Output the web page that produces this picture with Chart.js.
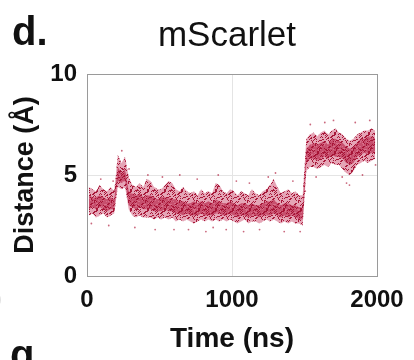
<!DOCTYPE html>
<html>
<head>
<meta charset="utf-8">
<script src="https://cdn.jsdelivr.net/npm/chart.js@4.4.1/dist/chart.umd.min.js"></script>
<style>
  html, body { margin: 0; padding: 0; background: #fff; }
  #wrap { width: 414px; height: 360px; position: relative; }
</style>
</head>
<body>
<div id="wrap"><canvas id="chart" width="414" height="360"></canvas></div>
<script>
// Time bins (ns, bin centres, 25 ns wide)
var binTime = [];
for (var i = 0; i < 80; i++) binTime.push(12.5 + 25 * i);

// Spread of the dense point cloud per bin (Å)
var outerLow = [
  3.0, 3.1, 2.9, 3.0, 3.1, 2.9, 3.0, 3.1, 4.4, 4.3,
  4.4, 3.3, 3.0, 2.9, 3.0, 2.9, 2.9, 2.9, 2.8, 2.9,
  2.8, 2.9, 2.8, 2.9, 2.7, 2.8, 2.7, 2.8, 2.7, 2.6,
  2.7, 2.8, 2.7, 2.8, 2.7, 2.8, 2.7, 2.8, 2.7, 2.8,
  2.7, 2.6, 2.7, 2.8, 2.6, 2.7, 2.7, 2.6, 2.7, 2.8,
  2.7, 2.8, 2.7, 2.6, 2.7, 2.6, 2.7, 2.6, 2.6, 2.5,
  5.2, 5.4, 5.4, 5.3, 5.4, 5.5, 5.4, 5.6, 5.5, 5.5,
  5.3, 5.1, 5.0, 5.2, 5.5, 5.6, 5.7, 5.6, 5.7, 5.8
];
var outerHigh = [
  4.4, 4.3, 4.2, 4.5, 4.3, 4.2, 4.4, 4.2, 6.0, 5.6,
  5.9, 4.9, 4.5, 4.4, 4.6, 4.4, 4.8, 4.7, 4.4, 4.3,
  4.3, 4.5, 4.7, 4.6, 4.3, 4.2, 4.4, 4.2, 4.1, 4.2,
  4.0, 4.3, 4.1, 4.2, 4.1, 4.6, 4.5, 4.2, 4.1, 4.3,
  4.2, 4.0, 4.2, 4.1, 4.0, 4.3, 4.1, 4.0, 4.2, 4.3,
  4.5, 4.8, 4.4, 4.1, 4.2, 4.3, 4.1, 4.2, 4.0, 4.0,
  6.8, 7.0, 7.1, 6.9, 7.1, 7.2, 7.0, 7.2, 7.3, 7.1,
  7.0, 6.8, 6.7, 6.8, 7.0, 7.1, 7.2, 7.2, 7.3, 7.2
];
var coreLow = [
  3.3, 3.4, 3.3, 3.4, 3.3, 3.2, 3.3, 3.3, 4.7, 4.6,
  4.7, 3.5, 3.4, 3.3, 3.4, 3.3, 3.3, 3.3, 3.2, 3.2,
  3.2, 3.3, 3.2, 3.2, 3.1, 3.1, 3.0, 3.1, 3.0, 3.0,
  3.0, 3.1, 3.0, 3.0, 3.0, 3.1, 3.1, 3.0, 3.0, 3.1,
  3.0, 2.9, 3.0, 3.0, 2.9, 3.0, 3.0, 2.9, 3.0, 3.0,
  3.0, 3.1, 3.0, 2.9, 3.0, 2.9, 3.0, 2.9, 2.8, 2.8,
  5.6, 5.8, 5.8, 5.7, 5.8, 5.9, 5.8, 6.0, 5.9, 5.9,
  5.8, 5.6, 5.5, 5.6, 5.9, 6.0, 6.1, 6.0, 6.1, 6.1
];
var coreHigh = [
  4.0, 3.9, 3.9, 4.0, 3.9, 3.8, 3.9, 3.8, 5.4, 5.1,
  5.3, 4.2, 4.1, 4.0, 4.1, 3.9, 4.0, 4.0, 3.9, 3.8,
  3.9, 3.9, 3.9, 3.8, 3.8, 3.7, 3.7, 3.6, 3.6, 3.7,
  3.6, 3.7, 3.6, 3.7, 3.6, 3.8, 3.7, 3.6, 3.6, 3.7,
  3.6, 3.5, 3.6, 3.6, 3.5, 3.6, 3.5, 3.5, 3.6, 3.7,
  3.7, 3.8, 3.6, 3.5, 3.6, 3.6, 3.5, 3.5, 3.4, 3.4,
  6.3, 6.5, 6.6, 6.5, 6.6, 6.7, 6.5, 6.8, 6.8, 6.7,
  6.6, 6.4, 6.3, 6.4, 6.6, 6.8, 6.8, 6.9, 6.9, 6.8
];

// Stray points outside the dense cloud
var strayTime = [30, 95, 150, 180, 240, 290, 330, 420, 470, 520,
  600, 640, 700, 760, 820, 870, 905, 960, 1030, 1080,
  1120, 1190, 1250, 1300, 1360, 1420, 1470, 1500, 1503, 1505,
  1540, 1580, 1640, 1700, 1760, 1790, 1810, 1850, 1900, 1950, 1990];
var strayDist = [2.6, 4.8, 2.5, 4.7, 6.2, 5.3, 2.4, 5.0, 2.3, 4.9,
  2.3, 5.0, 2.3, 4.8, 2.2, 2.4, 5.0, 2.3, 4.7, 2.2,
  4.6, 2.3, 4.9, 5.1, 2.2, 4.7, 2.2, 4.5, 5.0, 4.2,
  7.5, 4.9, 7.6, 7.7, 4.9, 4.6, 4.5, 7.6, 5.0, 7.7, 5.5];

var xTicks = [0, 1000, 2000];
var yTicks = [0, 5, 10];

function pts(xs, ys) {
  return xs.map(function(x, i) { return { x: x, y: ys[i] }; });
}

// speckle texture so the filled bands look like a cloud of dots
function speckle(base, dot, w, h, n) {
  var c = document.createElement('canvas');
  c.width = w; c.height = h;
  var g = c.getContext('2d');
  g.fillStyle = base;
  g.fillRect(0, 0, w, h);
  g.fillStyle = dot;
  for (var k = 0; k < n; k++) {
    g.fillRect((k * 11 + ((k * k) % 5)) % w, (k * 7 + ((k * k * k) % 13)) % h, 1, 1);
  }
  return g.createPattern(c, 'repeat');
}

var fontFamily = '"Liberation Sans", Arial, sans-serif';
var ctx0 = document.getElementById('chart').getContext('2d');
var outerFill = speckle('rgba(212, 105, 133, 0.6)', 'rgba(165, 18, 52, 0.95)', 17, 19, 90);
var coreFill = speckle('rgba(174, 22, 58, 0.92)', 'rgba(226, 125, 150, 0.9)', 13, 11, 30);

// Panel texts: title, panel letters
var panelText = {
  id: 'panelText',
  afterDraw: function(chart) {
    var ctx = chart.ctx;
    ctx.save();
    ctx.fillStyle = '#111';
    ctx.textBaseline = 'alphabetic';
    ctx.textAlign = 'left';
    ctx.font = 'bold 40px ' + fontFamily;
    ctx.fillText('d.', 12, 45);
    ctx.fillText('g', 10, 368);
    ctx.textAlign = 'center';
    ctx.font = '35px ' + fontFamily;
    ctx.fillText('mScarlet', 227, 46);
    ctx.fillStyle = '#c8c8c8';
    ctx.textAlign = 'left';
    ctx.font = '24px ' + fontFamily;
    ctx.fillText(')', -6, 306);
    ctx.restore();
  }
};

function edgeColor(ctx) {
  var v = ctx.tick.value;
  return (v === 1000 || v === 5) ? '#e4e4e4' : '#9a9a9a';
}

new Chart(ctx0, {
  type: 'line',
  data: {
    datasets: [
      { data: pts(binTime, outerLow), borderWidth: 0, pointRadius: 0, fill: false },
      { data: pts(binTime, outerHigh), borderWidth: 0, pointRadius: 0, fill: '-1', backgroundColor: outerFill },
      { data: pts(binTime, coreLow), borderWidth: 0, pointRadius: 0, fill: false },
      { data: pts(binTime, coreHigh), borderWidth: 0, pointRadius: 0, fill: '-1', backgroundColor: coreFill },
      { data: pts(strayTime, strayDist), showLine: false, pointRadius: 0.9, pointBorderWidth: 0,
        pointBackgroundColor: 'rgba(180, 40, 70, 0.7)' }
    ]
  },
  options: {
    responsive: false,
    animation: false,
    layout: { padding: { top: 74, right: 37, left: 0, bottom: 0 } },
    plugins: { legend: { display: false }, tooltip: { enabled: false }, title: { display: false } },
    elements: { line: { tension: 0 } },
    scales: {
      x: {
        type: 'linear', min: 0, max: 2000,
        afterBuildTicks: function(s) { s.ticks = xTicks.map(function(v) { return { value: v }; }); },
        afterFit: function(s) { s.height = 84; },
        grid: { color: edgeColor, drawTicks: false, lineWidth: 1 },
        border: { color: '#9a9a9a' },
        ticks: { color: '#111', padding: 10, maxRotation: 0,
          callback: function(v) { return String(v); },
          font: { family: fontFamily, size: 24, weight: 'bold' } },
        title: { display: true, text: 'Time (ns)', color: '#111', padding: { top: 0, bottom: 4 },
          font: { family: fontFamily, size: 28, weight: 'bold' } }
      },
      y: {
        min: 0, max: 10,
        afterBuildTicks: function(s) { s.ticks = yTicks.map(function(v) { return { value: v }; }); },
        afterFit: function(s) { s.width = 87; },
        grid: { color: edgeColor, drawTicks: false, lineWidth: 1 },
        border: { color: '#9a9a9a' },
        ticks: { color: '#111', padding: 10, font: { family: fontFamily, size: 24, weight: 'bold' } },
        title: { display: true, text: 'Distance (Å)', color: '#111', padding: { top: 9, bottom: 0 },
          font: { family: fontFamily, size: 27, weight: 'bold' } }
      }
    }
  },
  plugins: [panelText]
});
</script>
</body>
</html>
